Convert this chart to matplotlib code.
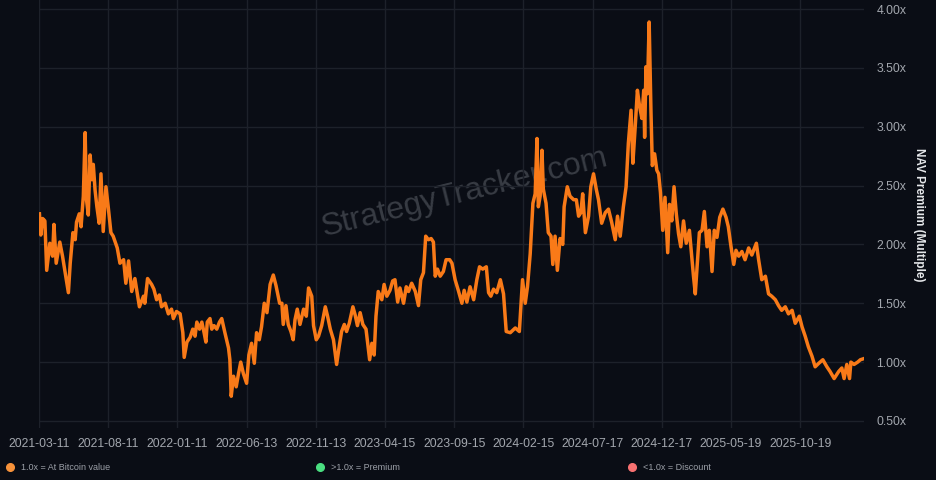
import matplotlib
matplotlib.use('Agg')
import matplotlib.pyplot as plt
import matplotlib.dates as mdates
from matplotlib.lines import Line2D
import numpy as np
import pandas as pd

# Start of the series and tick spacing (days)
start = '2021-03-11'
tick_step = 153

# Days since start
days = [1, 4, 8, 13, 17, 24, 30, 33, 38, 46, 52, 65, 69, 75, 80, 83, 89, 93,
        98, 102, 105, 109, 113, 117, 120, 124, 128, 133, 137, 142, 148, 153,
        159, 164, 173, 179, 187, 192, 198, 205, 212, 222, 231, 234, 240, 249,
        254, 260, 266, 271, 279, 286, 293, 297, 304, 312, 318, 321, 327, 334,
        340, 345, 349, 355, 360, 365, 369, 372, 378, 382, 387, 393, 399, 404,
        411, 419, 422, 425, 430, 436, 441, 446, 452, 459, 464, 470, 476, 481,
        487, 492, 498, 504, 511, 518, 524, 532, 537, 540, 546, 551, 557, 562,
        566, 571, 577, 585, 591, 596, 603, 607, 613, 618, 625, 633, 638, 644,
        651, 658, 664, 669, 675, 680, 686, 694, 699, 704, 710, 716, 723, 731,
        736, 741, 745, 750, 758, 763, 769, 776, 782, 787, 793, 798, 806, 812,
        817, 824, 832, 839, 844, 850, 855, 861, 867, 872, 876, 881, 887, 894,
        900, 908, 913, 920, 927, 935, 940, 946, 953, 961, 968, 974, 981, 989,
        994, 999, 1005, 1012, 1020, 1027, 1033, 1042, 1053, 1062, 1069, 1075,
        1080, 1086, 1092, 1097, 1101, 1104, 1108, 1112, 1115, 1121, 1126, 1132,
        1136, 1141, 1146, 1152, 1158, 1161, 1168, 1174, 1182, 1188, 1193, 1198,
        1202, 1208, 1215, 1220, 1226, 1232, 1237, 1244, 1252, 1259, 1266, 1274,
        1279, 1285, 1292, 1298, 1303, 1309, 1313, 1318, 1323, 1328, 1333, 1337,
        1339, 1342, 1345, 1349, 1353, 1356, 1361, 1366, 1370, 1374, 1379, 1384,
        1390, 1394, 1399, 1404, 1409, 1414, 1419, 1425, 1431, 1438, 1443, 1447,
        1451, 1456, 1460, 1466, 1471, 1477, 1482, 1488, 1493, 1499, 1505, 1512,
        1519, 1524, 1530, 1536, 1541, 1547, 1554, 1561, 1569, 1576, 1586, 1591,
        1598, 1606, 1613, 1620, 1628, 1635, 1642, 1650, 1657, 1665, 1672, 1681,
        1687, 1694, 1701, 1709, 1716, 1724, 1733, 1742, 1749, 1758, 1768, 1775,
        1780, 1786, 1792, 1795, 1802, 1810, 1816, 1824]

# NAV premium multiple at each of those days
premium = [2.26, 2.08, 2.22, 2.20, 1.78, 2.01, 1.90, 2.17, 1.84, 2.02, 1.90,
           1.59, 1.84, 2.10, 2.04, 2.19, 2.26, 2.15, 2.41, 2.95, 2.38, 2.25,
           2.76, 2.55, 2.68, 2.46, 2.32, 2.18, 2.60, 2.11, 2.49, 2.32, 2.10,
           2.07, 1.97, 1.84, 1.87, 1.67, 1.86, 1.60, 1.71, 1.47, 1.56, 1.50,
           1.71, 1.66, 1.62, 1.53, 1.57, 1.47, 1.50, 1.41, 1.45, 1.37, 1.43,
           1.41, 1.25, 1.04, 1.17, 1.21, 1.28, 1.22, 1.34, 1.28, 1.34, 1.25,
           1.17, 1.34, 1.37, 1.28, 1.31, 1.28, 1.34, 1.37, 1.25, 1.12, 1.02,
           0.71, 0.88, 0.79, 0.90, 1.00, 0.90, 0.82, 1.06, 1.16, 0.99, 1.25,
           1.19, 1.30, 1.50, 1.42, 1.66, 1.74, 1.65, 1.50, 1.50, 1.32, 1.48,
           1.32, 1.26, 1.19, 1.36, 1.45, 1.32, 1.45, 1.39, 1.63, 1.56, 1.31,
           1.19, 1.22, 1.31, 1.47, 1.39, 1.28, 1.19, 0.98, 1.14, 1.26, 1.32,
           1.26, 1.33, 1.47, 1.40, 1.31, 1.42, 1.32, 1.28, 1.02, 1.16, 1.06,
           1.39, 1.60, 1.53, 1.66, 1.56, 1.61, 1.69, 1.70, 1.51, 1.63, 1.50,
           1.64, 1.60, 1.67, 1.60, 1.48, 1.70, 1.76, 2.07, 2.04, 2.05, 2.02,
           1.73, 1.79, 1.73, 1.77, 1.87, 1.87, 1.84, 1.70, 1.61, 1.50, 1.61,
           1.51, 1.64, 1.53, 1.70, 1.81, 1.79, 1.81, 1.59, 1.56, 1.62, 1.59,
           1.70, 1.58, 1.26, 1.25, 1.29, 1.26, 1.70, 1.50, 1.64, 1.92, 2.35,
           2.43, 2.90, 2.32, 2.41, 2.80, 2.47, 2.35, 2.10, 2.07, 1.83, 2.07,
           1.78, 2.05, 2.00, 2.32, 2.49, 2.41, 2.38, 2.38, 2.24, 2.27, 2.43,
           2.10, 2.24, 2.49, 2.60, 2.47, 2.38, 2.18, 2.27, 2.30, 2.19, 2.04,
           2.24, 2.07, 2.32, 2.49, 2.86, 3.14, 2.69, 2.99, 3.31, 3.17, 3.07,
           3.31, 2.91, 3.51, 3.28, 3.89, 3.13, 2.67, 2.77, 2.63, 2.60, 2.44,
           2.12, 2.40, 1.93, 2.34, 2.20, 2.49, 2.26, 2.09, 1.98, 2.20, 2.01,
           2.12, 1.90, 1.73, 1.58, 1.87, 2.10, 2.12, 2.28, 1.98, 2.12, 1.77,
           2.12, 2.06, 2.23, 2.30, 2.23, 2.15, 1.98, 1.83, 1.95, 1.90, 1.94,
           1.87, 1.97, 1.91, 2.01, 1.87, 1.70, 1.73, 1.58, 1.56, 1.53, 1.48,
           1.44, 1.47, 1.41, 1.44, 1.33, 1.39, 1.30, 1.22, 1.13, 1.05, 0.96,
           0.99, 1.02, 0.96, 0.92, 0.86, 0.92, 0.95, 0.86, 0.98, 0.86, 1.00,
           0.98, 1.00, 1.02, 1.03]

# Y ticks and legend entries
yticks = [0.5, 1.0, 1.5, 2.0, 2.5, 3.0, 3.5, 4.0]
legend_labels = ['1.0x = At Bitcoin value', '>1.0x = Premium', '<1.0x = Discount']
legend_colors = ['#f7923a', '#4ade80', '#f87171']

# Colours
bg = '#0a0d15'
grid = '#1d212a'
line_color = '#f97a18'
tick_color = '#a3a7ae'

t0 = pd.Timestamp(start)
dates = t0 + pd.to_timedelta(days, unit='D')
xticks = [t0 + pd.Timedelta(days=tick_step * i) for i in range(12)]

plt.rcParams['font.family'] = ['Liberation Sans', 'DejaVu Sans']

fig = plt.figure(figsize=(9.36, 4.8), dpi=100, facecolor=bg)
ax = fig.add_axes([39/936, 52/480, 825/936, 428/480], facecolor=bg)

ax.plot(dates, premium, color=line_color, lw=2.5, solid_joinstyle='round',
        zorder=3)

ax.set_xlim(t0, dates[-1])
ax.set_ylim(0.44, 4.077)

# Grid
ax.set_xticks(xticks)
ax.xaxis.set_major_formatter(mdates.DateFormatter('%Y-%m-%d'))
ax.set_yticks(yticks)
ax.set_yticklabels(['%.2fx' % v for v in yticks])
ax.grid(True, color=grid, lw=1.0, zorder=0)
ax.yaxis.tick_right()
ax.tick_params(axis='both', length=0, colors=tick_color, labelsize=8.8)
ax.tick_params(axis='x', pad=7)
ax.tick_params(axis='y', pad=9)
for s in ax.spines.values():
    s.set_visible(False)

# Axis title on the right
fig.text(919/936, 1 - 215/480, 'NAV Premium (Multiple)', rotation=270,
         ha='center', va='center', color='#e6e8eb', fontsize=8.5,
         fontweight='bold')

# Watermark
ax.text(0.516, 0.55, 'StrategyTracker.com', transform=ax.transAxes,
        rotation=14, ha='center', va='center', fontsize=23,
        color='#383c44', zorder=1)

# Legend dots along the bottom
dot_x = [10, 320, 632]
for xp, lab, col in zip(dot_x, legend_labels, legend_colors):
    fig.add_artist(Line2D([xp/936], [1 - 467/480], marker='o', ms=5.5,
                          color=col, lw=0, transform=fig.transFigure))
    fig.text((xp + 11)/936, 1 - 467/480, lab, ha='left', va='center',
             color='#9ca0a8', fontsize=6.5)

fig.savefig('out.png', dpi=100, facecolor=bg)
